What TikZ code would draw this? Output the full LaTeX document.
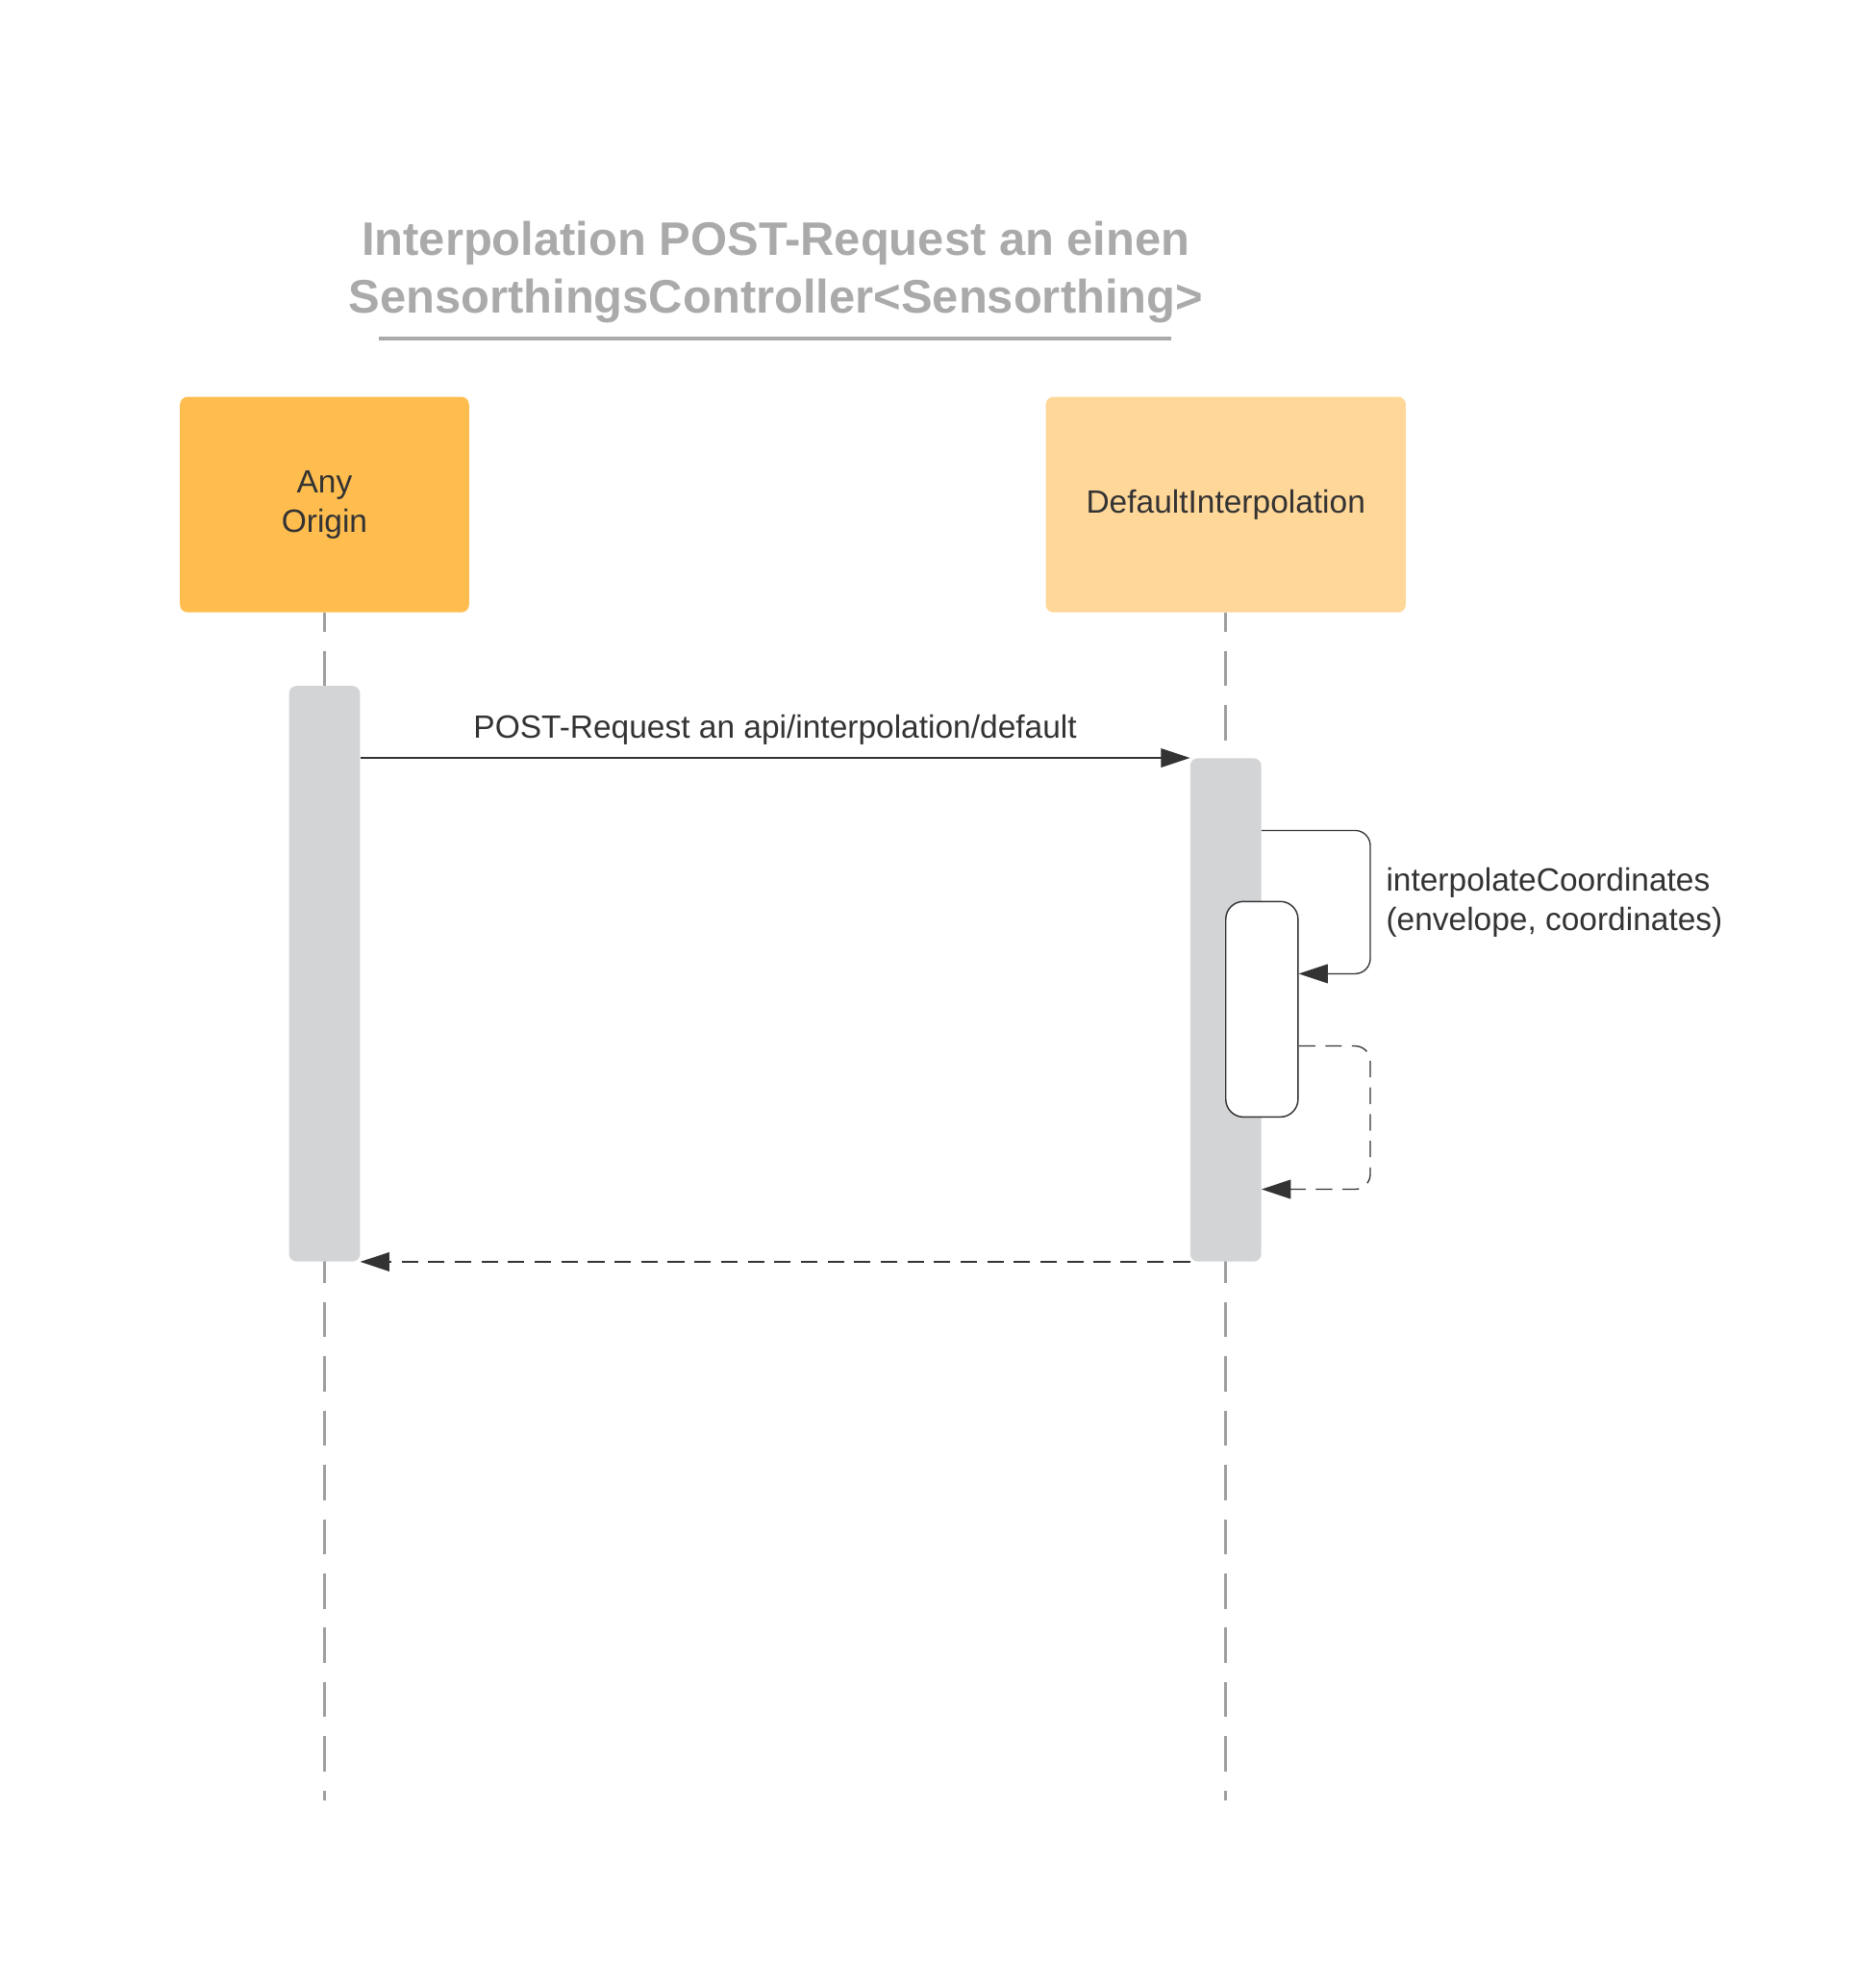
\documentclass[tikz,border=0pt]{standalone}
\usepackage{fontspec}
\setmainfont{Liberation Sans}
\usetikzlibrary{arrows.meta}

\definecolor{origincol}{HTML}{FFBD4F}
\definecolor{interpcol}{HTML}{FFD799}
\definecolor{barcol}{HTML}{D3D4D6}
\definecolor{lifecol}{HTML}{9E9E9E}
\definecolor{inkcol}{HTML}{333333}
\definecolor{titlecol}{HTML}{AAAAAA}

\tikzset{
  actor/.style={rectangle, rounded corners=6pt, minimum height=170pt, text=inkcol,
    align=center, font=\fontsize{25.4}{31}\selectfont},
  actbar/.style={rectangle, rounded corners=6pt, fill=barcol, minimum width=56pt, inner sep=0pt},
  lifeline/.style={lifecol, line width=2.5pt, dash pattern=on 27.8pt off 15pt, dash phase=12.6pt},
  msg/.style={inkcol, line width=1pt, -{Triangle[length=23pt,width=15pt]}},
  reply/.style={msg, dash pattern=on 13pt off 8pt},
  lbl/.style={text=inkcol, font=\fontsize{25.4}{31}\selectfont, inner sep=0pt}
}

\begin{document}
\begin{tikzpicture}[x=1pt,y=-1pt]
\useasboundingbox (0,0) rectangle (1461,1568);

% Titel
\node[text=titlecol, align=center, font=\fontsize{37.1}{45.5}\selectfont\bfseries] (title) at (612,215)
  {Interpolation POST-Request an einen\\SensorthingsController<Sensorthing>};
\draw[titlecol, line width=3pt] (299,267) -- (924,267);

% Teilnehmer
\node[actor, fill=origincol, minimum width=228pt] (origin) at (256,398) {Any\\Origin};
\node[actor, fill=interpcol, minimum width=284pt] (interp) at (967,398) {DefaultInterpolation};

% Lebenslinien
\coordinate (originend) at (256,1420);
\coordinate (interpend) at (967,1420);
\draw[lifeline] (origin.south) -- (originend);
\draw[lifeline] (interp.south) -- (interpend);

% Aktivierungen
\node[actbar, minimum height=454pt] (bar1) at (256,768) {};
\node[actbar, minimum height=397pt] (bar2) at (967,796.5) {};
\node[rectangle, draw=inkcol, fill=white, line width=1.1pt, rounded corners=14pt,
  minimum width=57pt, minimum height=170pt, inner sep=0pt] (bar3) at (995.5,796) {};

% Nachrichten
\draw[msg] (bar1.east |- bar2.north) -- (bar2.north west)
  node[lbl, midway, above=10pt] (post) {POST-Request an api/interpolation/default};
\draw[msg, rounded corners=12pt] (bar2.east |- 0,655) -- (1081,655) -- (1081,768)
  node[lbl, midway, right=12pt, align=left] (call) {interpolateCoordinates\\(envelope, coordinates)}
  -- (bar3.east |- 0,768);
\draw[reply, rounded corners=12pt] (bar3.east |- 0,825) -- (1081,825) -- (1081,938) -- (bar2.east |- 0,938);
\draw[reply] (bar2.south west) -- (bar1.south east);
\end{tikzpicture}
\end{document}
